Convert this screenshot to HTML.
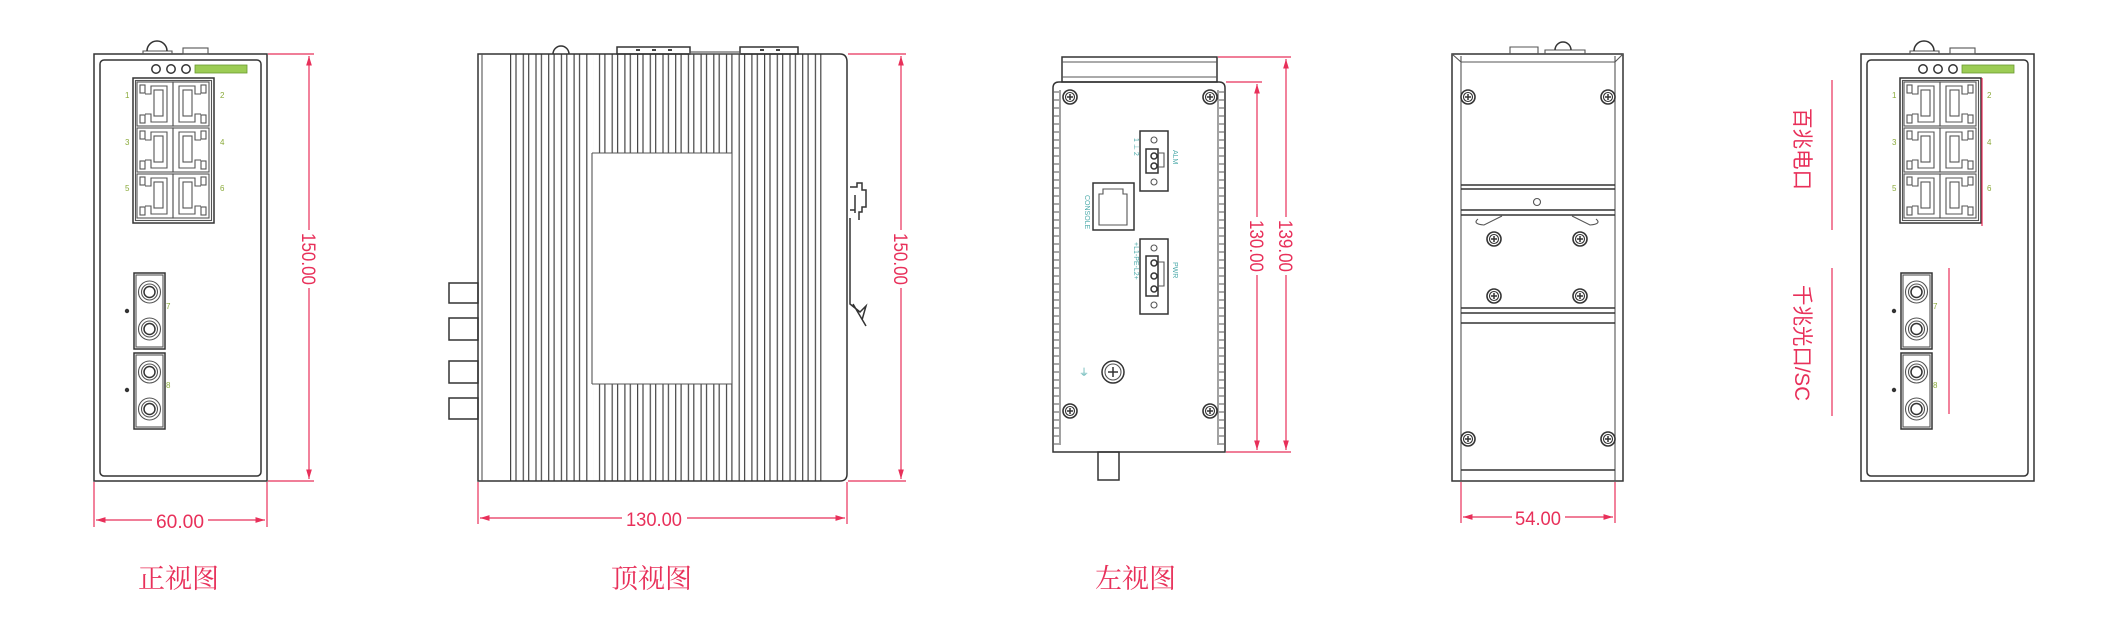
<!DOCTYPE html>
<html><head><meta charset="utf-8"><style>
html,body{margin:0;padding:0;background:#fff;}
svg{display:block;}
.l{fill:none;stroke:#333;stroke-width:1.5}
.t{fill:none;stroke:#555;stroke-width:1.1}
.r{fill:none;stroke:#e8305a;stroke-width:1.2}
.dt{font-family:"Liberation Sans",sans-serif;font-size:19px;fill:#e8305a}
.cap{font-family:"Liberation Serif","Noto Serif CJK SC","Noto Sans CJK SC",serif;font-size:27px;fill:#e8305a}
.vt{font-family:"Liberation Sans","Noto Sans CJK SC",sans-serif;font-size:21px;fill:#e8305a}
</style></head><body>
<svg width="2116" height="644" viewBox="0 0 2116 644" xmlns="http://www.w3.org/2000/svg">
<defs>
<marker id="ar" viewBox="0 0 10 10" refX="10" refY="5" markerWidth="8" markerHeight="8" orient="auto-start-reverse"><path d="M0,2 L10,5 L0,8 z" fill="#e8305a"/></marker>
<symbol id="scr" viewBox="-8 -8 16 16" width="16" height="16" overflow="visible">
<circle r="7" fill="none" stroke="#333" stroke-width="1.6"/><circle r="4.5" fill="none" stroke="#333" stroke-width="1.1"/><path d="M-3,0H3M0,-3V3" stroke="#333" stroke-width="1.5"/>
</symbol>
<pattern id="fin" x="510" y="0" width="12.7" height="10" patternUnits="userSpaceOnUse">
<path d="M0.6,0V10M6,0V10" stroke="#444" stroke-width="1.2"/>
</pattern>
<g id="port">
<rect x="0" y="0" width="36" height="44" class="t"/>
<rect x="3" y="3" width="5" height="8" class="t"/><rect x="3" y="33" width="5" height="8" class="t"/>
<path d="M8,12H14V4H30V40H14V32H8" class="t"/>
<rect x="17" y="8" width="9" height="26" class="t"/>
</g>
<g id="port2"><use href="#port" transform="translate(36,0) scale(-1,1)"/></g>
<g id="sc">
<rect x="0" y="0" width="31" height="76" class="l"/><rect x="2" y="2" width="27" height="72" class="t"/>
<circle cx="15.5" cy="19" r="11" class="t"/><circle cx="15.5" cy="19" r="8" class="t"/><circle cx="15.5" cy="19" r="5.5" class="l"/>
<circle cx="15.5" cy="56" r="11" class="t"/><circle cx="15.5" cy="56" r="8" class="t"/><circle cx="15.5" cy="56" r="5.5" class="l"/>
</g>
<g id="front">
<rect x="0" y="0" width="173" height="427" class="l"/>
<rect x="6" y="6" width="161" height="416" rx="4" class="l"/>
<path d="M49,0 V-3 H78 V0" class="t"/><path d="M53,-3 A10,10 0 0 1 73,-3" class="l"/>
<rect x="89" y="-6" width="25" height="6" class="t"/>
<circle cx="62" cy="15" r="4.2" class="l"/><circle cx="77" cy="15" r="4.2" class="l"/><circle cx="92" cy="15" r="4.2" class="l"/>
<rect x="101" y="11" width="52" height="8" fill="#9ccc55" stroke="#6a9a30" stroke-width="0.8"/>
<rect x="39" y="24" width="81" height="145" class="l"/><rect x="41.5" y="26.5" width="76" height="140" class="t"/>
<use href="#port" x="43" y="28"/><use href="#port2" x="79" y="28"/>
<use href="#port" x="43" y="74"/><use href="#port2" x="79" y="74"/>
<use href="#port" x="43" y="120"/><use href="#port2" x="79" y="120"/>
<use href="#sc" x="40" y="219"/><use href="#sc" x="40" y="299"/>
<circle cx="33" cy="257" r="2.2" fill="#333"/><circle cx="33" cy="336" r="2.2" fill="#333"/>
<g fill="#8aaa3a" font-family="Liberation Sans,sans-serif" font-size="8">
<text x="31" y="44">1</text><text x="126" y="44">2</text><text x="31" y="91">3</text><text x="126" y="91">4</text><text x="31" y="137">5</text><text x="126" y="137">6</text>
<text x="72" y="255">7</text><text x="72" y="334">8</text></g>
</g>
</defs>

<!-- FRONT VIEW -->
<use href="#front" x="94" y="54"/>
<path d="M268,54H314M268,481H314M94,482V527M267,482V527" class="r"/>
<path d="M309,56V230M309,288V479" class="r" marker-start="url(#ar)" marker-end="url(#ar)"/>
<text class="dt" transform="translate(302,259) rotate(90)" text-anchor="middle" textLength="52" lengthAdjust="spacingAndGlyphs">150.00</text>
<path d="M96,520H152M208,520H265" class="r" marker-start="url(#ar)" marker-end="url(#ar)"/>
<text class="dt" x="180" y="528" text-anchor="middle" textLength="48" lengthAdjust="spacingAndGlyphs">60.00</text>
<text class="cap" x="138" y="588">正视图</text>

<!-- TOP VIEW -->
<rect x="510" y="54" width="78" height="427" fill="url(#fin)"/>
<rect x="733" y="54" width="90" height="427" fill="url(#fin)"/>
<rect x="593" y="54" width="140" height="99" fill="url(#fin)"/>
<rect x="593" y="384" width="140" height="97" fill="url(#fin)"/>
<path d="M592,153H732M592,384H732M592,153V384M732,153V384" class="t"/>
<path d="M478,54 H840 Q847,54 847,62 V474 Q847,481 840,481 H478 Z" class="l"/>
<path d="M482,54V481" class="t"/>
<path d="M553,54 A8,8 0 0 1 569,54" class="l"/>
<rect x="617" y="47" width="73" height="7" class="l"/><rect x="740" y="47" width="58" height="7" class="l"/>
<rect x="690" y="52" width="50" height="2" class="t"/>
<path d="M636,50h4M652,50h4M668,50h4M760,50h4M776,50h4" stroke="#444" stroke-width="2"/>
<rect x="449" y="283" width="29" height="20" class="l"/><rect x="449" y="318" width="29" height="22" class="l"/>
<rect x="449" y="361" width="29" height="22" class="l"/><rect x="449" y="398" width="29" height="21" class="l"/>
<path d="M850,187 H857 V183 H862 V190 H866 V207 H862 V212 H859 V220 M855,195 V213 M850,210 H855" class="l"/>
<path d="M850,218 V304 L860,312 L866,306 L862,320 M853,304 L866,326" class="l"/>
<path d="M848,54H906M848,481H906" class="r"/>
<path d="M901,56V230M901,288V479" class="r" marker-start="url(#ar)" marker-end="url(#ar)"/>
<text class="dt" transform="translate(894,259) rotate(90)" text-anchor="middle" textLength="52" lengthAdjust="spacingAndGlyphs">150.00</text>
<path d="M478,482V524M847,482V524" class="r"/>
<path d="M480,518H622M687,518H845" class="r" marker-start="url(#ar)" marker-end="url(#ar)"/>
<text class="dt" x="654" y="526" text-anchor="middle" textLength="56" lengthAdjust="spacingAndGlyphs">130.00</text>
<text class="cap" x="611" y="588">顶视图</text>

<!-- LEFT VIEW -->
<rect x="1062" y="57" width="155" height="25" class="l"/>
<path d="M1062,62H1217M1062,77H1217" class="t"/>
<path d="M1053,452 V88 Q1053,82 1059,82 H1219 Q1225,82 1225,88 V452 Z" class="l"/>
<path d="M1060,90V445M1218,90V445" class="t"/>
<path d="M1219,92 h5 m0,8 h-5 m0,8 h5 m0,8 h-5 m0,8 h5 m0,8 h-5 m0,8 h5 m0,8 h-5 m0,8 h5 m0,8 h-5 m0,8 h5 m0,8 h-5 m0,8 h5 m0,8 h-5 m0,8 h5 m0,8 h-5 m0,8 h5 m0,8 h-5 m0,8 h5 m0,8 h-5 m0,8 h5 m0,8 h-5 m0,8 h5 m0,8 h-5 m0,8 h5 m0,8 h-5 m0,8 h5 m0,8 h-5 m0,8 h5 m0,8 h-5 m0,8 h5 m0,8 h-5 m0,8 h5 m0,8 h-5 m0,8 h5 m0,8 h-5 m0,8 h5 m0,8 h-5 m0,8 h5 m0,8 h-5 m0,8 h5 m0,8 h-5 m0,8 h5 m0,8 h-5 m0,8 h5" class="t"/>
<path d="M1054,92 h5 m0,8 h-5 m0,8 h5 m0,8 h-5 m0,8 h5 m0,8 h-5 m0,8 h5 m0,8 h-5 m0,8 h5 m0,8 h-5 m0,8 h5 m0,8 h-5 m0,8 h5 m0,8 h-5 m0,8 h5 m0,8 h-5 m0,8 h5 m0,8 h-5 m0,8 h5 m0,8 h-5 m0,8 h5 m0,8 h-5 m0,8 h5 m0,8 h-5 m0,8 h5 m0,8 h-5 m0,8 h5 m0,8 h-5 m0,8 h5 m0,8 h-5 m0,8 h5 m0,8 h-5 m0,8 h5 m0,8 h-5 m0,8 h5 m0,8 h-5 m0,8 h5 m0,8 h-5 m0,8 h5 m0,8 h-5 m0,8 h5 m0,8 h-5 m0,8 h5 m0,8 h-5 m0,8 h5" class="t"/>
<use href="#scr" x="1062" y="89"/><use href="#scr" x="1202" y="89"/>
<use href="#scr" x="1062" y="403"/><use href="#scr" x="1202" y="403"/>
<rect x="1140" y="131" width="28" height="60" class="l"/>
<rect x="1146" y="149" width="12" height="24" class="l"/>
<circle cx="1154" cy="140" r="3" class="t"/><circle cx="1154" cy="156" r="3" class="l"/><circle cx="1154" cy="166" r="3" class="l"/><circle cx="1154" cy="182" r="3" class="t"/>
<path d="M1158,153h6v14h-6" class="t"/>
<rect x="1093" y="183" width="41" height="47" class="l"/>
<path d="M1099,225V194h4v-5h20v5h4v31z" class="t"/>
<rect x="1140" y="239" width="28" height="75" class="l"/>
<rect x="1146" y="256" width="12" height="40" class="l"/>
<circle cx="1154" cy="248" r="3" class="t"/><circle cx="1154" cy="263" r="3" class="l"/><circle cx="1154" cy="276" r="3" class="l"/><circle cx="1154" cy="289" r="3" class="l"/><circle cx="1154" cy="305" r="3" class="t"/>
<path d="M1158,262h6v24h-6" class="t"/>
<g fill="#4aa9a9" font-family="Liberation Sans,sans-serif" font-size="7">
<text transform="translate(1173,150) rotate(90)">ALM</text><text transform="translate(1173,262) rotate(90)">PWR</text>
<text transform="translate(1085,195) rotate(90)">CONSOLE</text><text transform="translate(1134,138) rotate(90)">1 ⊥ 2</text>
<text transform="translate(1134,242) rotate(90)">+L1-PE-L2+</text>
<text x="1079" y="376" font-size="10">⏚</text></g>
<circle cx="1113" cy="372" r="11" class="l"/><circle cx="1113" cy="372" r="8" class="t"/><path d="M1108,372h10M1113,367v10" stroke="#333" stroke-width="1.5"/>
<rect x="1098" y="452" width="21" height="28" class="l"/>
<path d="M1226,82H1262M1218,57H1291M1226,452H1291" class="r"/>
<path d="M1257,84V217M1257,275V450" class="r" marker-start="url(#ar)" marker-end="url(#ar)"/>
<text class="dt" transform="translate(1250,246) rotate(90)" text-anchor="middle" textLength="52" lengthAdjust="spacingAndGlyphs">130.00</text>
<path d="M1286,59V217M1286,275V450" class="r" marker-start="url(#ar)" marker-end="url(#ar)"/>
<text class="dt" transform="translate(1279,246) rotate(90)" text-anchor="middle" textLength="52" lengthAdjust="spacingAndGlyphs">139.00</text>
<text class="cap" x="1095" y="588">左视图</text>

<!-- REAR VIEW -->
<path d="M1452,54H1623V481H1452Z" class="l"/>
<path d="M1461,56V481M1615,56V481M1452,54L1461,62H1615L1623,54" class="t"/>
<path d="M1461,185H1615M1461,189H1615M1461,210H1615M1461,215H1615M1461,308H1615M1461,313H1615M1461,323H1615M1461,470H1615" class="l"/>
<circle cx="1537" cy="202" r="3.5" class="t"/>
<path d="M1478,219 Q1472,224 1484,225 L1502,216 M1596,219 Q1602,224 1590,225 L1572,216" class="t"/>
<path d="M1510,54V47H1538V54M1545,54V50H1585V54" class="t"/><path d="M1555,50 A8,8 0 0 1 1571,50" class="l"/>
<use href="#scr" x="1460" y="89"/><use href="#scr" x="1600" y="89"/>
<use href="#scr" x="1486" y="231"/><use href="#scr" x="1572" y="231"/>
<use href="#scr" x="1486" y="288"/><use href="#scr" x="1572" y="288"/>
<use href="#scr" x="1460" y="431"/><use href="#scr" x="1600" y="431"/>
<path d="M1461,482V523M1615,482V523" class="r"/>
<path d="M1463,517H1512M1565,517H1613" class="r" marker-start="url(#ar)" marker-end="url(#ar)"/>
<text class="dt" x="1538" y="525" text-anchor="middle" textLength="46" lengthAdjust="spacingAndGlyphs">54.00</text>

<!-- RIGHT FRONT VIEW -->
<use href="#front" x="1861" y="54"/>
<path d="M1832,80V230M1832,268V416M1982,78V226M1949,268V414" class="r"/>
<text class="vt" transform="translate(1795,108) rotate(90)" textLength="82" lengthAdjust="spacingAndGlyphs">百兆电口</text>
<text class="vt" transform="translate(1795,285) rotate(90)" textLength="116" lengthAdjust="spacingAndGlyphs">千兆光口/SC</text>
</svg>
</body></html>
